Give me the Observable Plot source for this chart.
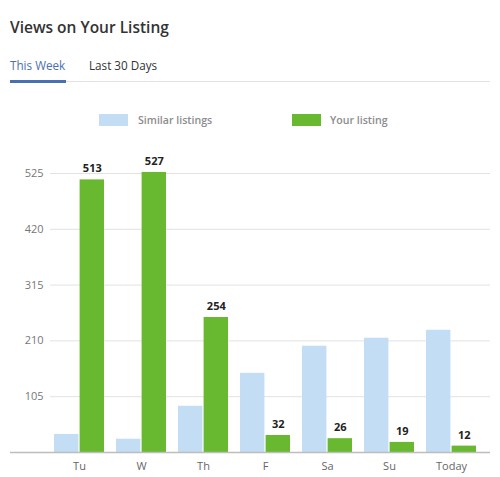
<!DOCTYPE html>
<html>
<head>
<meta charset="utf-8">
<script src="https://cdn.jsdelivr.net/npm/d3@7"></script>
<script src="https://cdn.jsdelivr.net/npm/@observablehq/plot@0.6"></script>
<style>
  html, body { margin: 0; padding: 0; background: #fff; }
  #wrap { position: relative; width: 500px; height: 477px; font-family: "Open Sans", sans-serif; overflow: hidden; }
  .abs { position: absolute; white-space: nowrap; }
  #title { left: 10px; top: 16px; font-size: 15.5px; font-weight: 600; color: #333; }
  #tab1 { left: 10px; top: 57px; font-size: 11.7px; color: #4a6fb3; }
  #tab2 { left: 89px; top: 57px; font-size: 11.7px; color: #333; }
  #tabline { left: 10px; top: 81px; width: 480px; height: 1px; background: #e3e3e3; }
  #tabsel { left: 10px; top: 80px; width: 56px; height: 3px; background: #4a6fb3; }
  .sw { top: 114px; width: 29px; height: 12px; }
  .lg { top: 113px; font-size: 10.6px; font-weight: 600; color: #8c8c8c; }
  #chart { position: absolute; left: 0; top: 140px; }
</style>
</head>
<body>
<div id="wrap">
  <div id="title" class="abs">Views on Your Listing</div>
  <div id="tab1" class="abs">This Week</div>
  <div id="tab2" class="abs">Last 30 Days</div>
  <div id="tabline" class="abs"></div>
  <div id="tabsel" class="abs"></div>
  <div id="sw1" class="abs sw"></div>
  <div id="lg1" class="abs lg"></div>
  <div id="sw2" class="abs sw"></div>
  <div id="lg2" class="abs lg"></div>
  <div id="chart"></div>
</div>
<script>
const days = ["Tu", "W", "Th", "F", "Sa", "Su", "Today"];
const similarListings = [34, 25, 87, 149, 200, 215, 230];
const yourListing = [513, 527, 254, 32, 26, 19, 12];
const yTicks = [105, 210, 315, 420, 525];
const seriesNames = ["Similar listings", "Your listing"];
const seriesColors = ["#c3ddf4", "#68b92f"];

document.getElementById("sw1").style.cssText = "left:99px;background:" + seriesColors[0];
document.getElementById("sw2").style.cssText = "left:292px;background:" + seriesColors[1];
const lg1 = document.getElementById("lg1"); lg1.textContent = seriesNames[0]; lg1.style.left = "138px";
const lg2 = document.getElementById("lg2"); lg2.textContent = seriesNames[1]; lg2.style.left = "330px";

const data = days.map((d, i) => ({day: d, similar: similarListings[i], yours: yourListing[i]}));

const chart = Plot.plot({
  width: 500,
  height: 337,
  marginLeft: 50,
  marginRight: 10,
  marginTop: 33,
  marginBottom: 25,
  style: {fontFamily: "Open Sans, sans-serif", fontSize: "11px", background: "transparent"},
  x: {domain: days, range: [45.7, 484.3], paddingInner: 0.2, paddingOuter: 0.1, label: null},
  y: {domain: [0, 525], label: null},
  marks: [
    Plot.gridY(yTicks, {stroke: "#e2e2e2", strokeOpacity: 1}),
    Plot.barY(data, {x: "day", y: "similar", fill: seriesColors[0], insetRight: 25.6}),
    Plot.barY(data, {x: "day", y: "yours", fill: seriesColors[1], insetLeft: 25.6}),
    Plot.ruleY([0], {stroke: "#bdbdbd", strokeWidth: 1.5, insetLeft: -40}),
    Plot.text(data, {x: "day", y: "yours", text: d => String(d.yours), dx: 12.8, dy: -11, fontWeight: "bold", fontSize: 11, fill: "#222"}),
    Plot.axisY(yTicks, {tickSize: 0, tickPadding: 7, color: "#777", fontSize: 11, label: null}),
    Plot.axisX({tickSize: 0, tickPadding: 10, color: "#666", fontSize: 11, label: null})
  ]
});
document.getElementById("chart").appendChild(chart);
</script>
</body>
</html>
